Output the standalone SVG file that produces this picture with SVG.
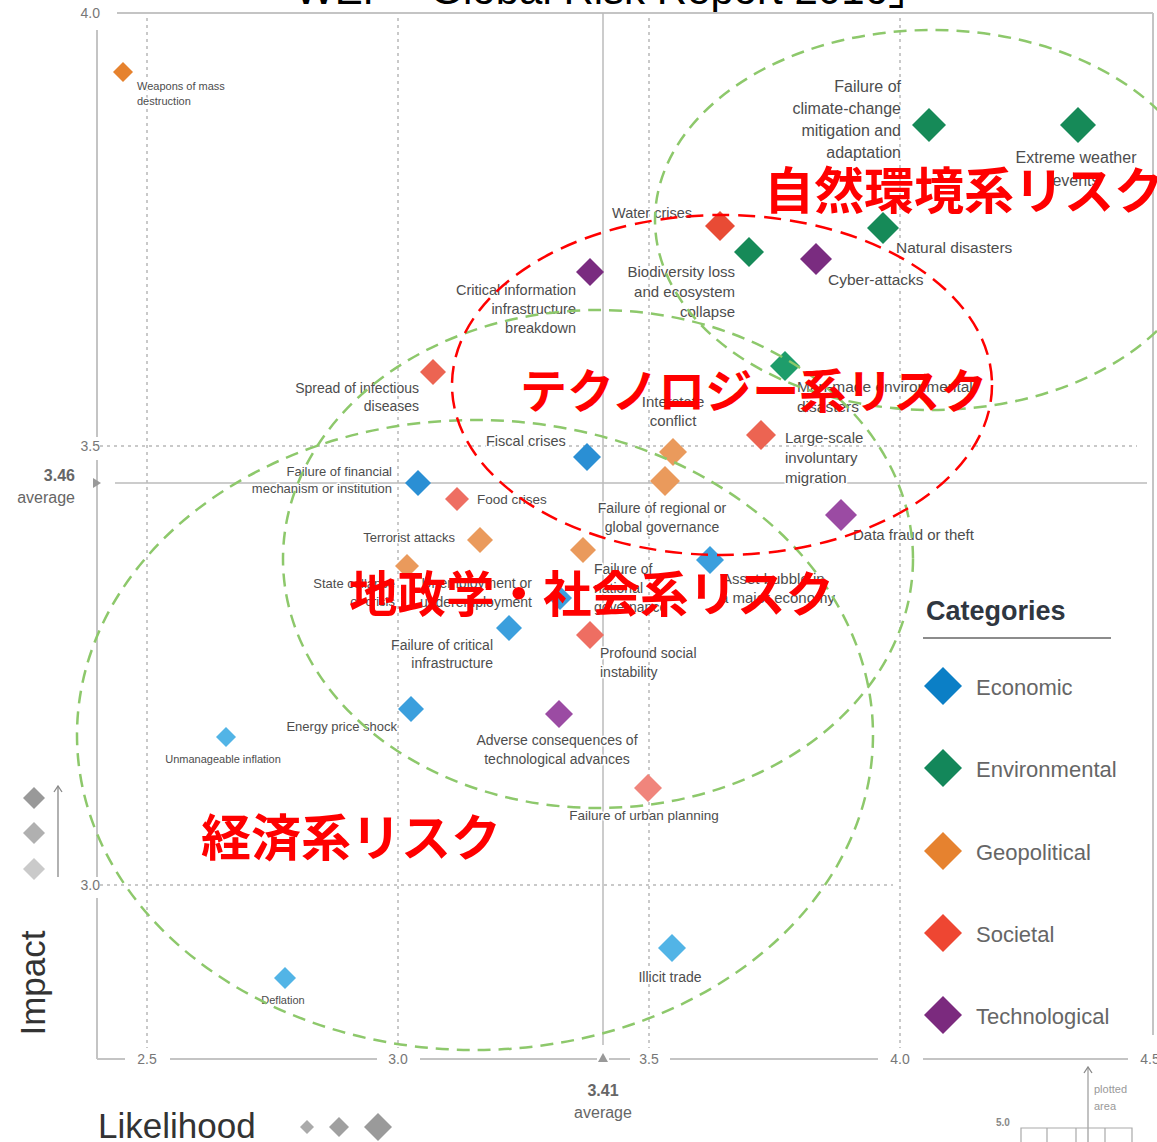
<svg xmlns="http://www.w3.org/2000/svg" xmlns:xlink="http://www.w3.org/1999/xlink" width="1157" height="1142" viewBox="0 0 1157 1142">
<style>
.lbl{font-family:"Liberation Sans",Arial,sans-serif;fill:#4d4d4d;stroke:#fff;stroke-width:3;paint-order:stroke;stroke-linejoin:round}
.f11{font-size:11px}.f13{font-size:13px}.f135{font-size:13.5px}.f14{font-size:14px}.f145{font-size:14.5px}.f15{font-size:15px}.f155{font-size:15.5px}.f16{font-size:16px}
.end{text-anchor:end}.mid{text-anchor:middle}
.grid{stroke:#b8b8b8;stroke-width:1.5;stroke-dasharray:3 4;fill:none}
.axis{stroke:#c4c4c4;stroke-width:2;fill:none}
.tick{font-family:"Liberation Sans",Arial,sans-serif;font-size:14px;fill:#777}
.avg{font-family:"Liberation Sans",Arial,sans-serif;font-size:16px;fill:#666}
.ellg{fill:none;stroke:#8DC86B;stroke-width:2.5;stroke-dasharray:13 8}
.ellr{fill:none;stroke:#FF0000;stroke-width:2.5;stroke-dasharray:17 9}
.jp{font-family:"Noto Sans CJK JP",sans-serif;font-weight:bold;fill:#FF0000}
.leg{font-family:"Liberation Sans",Arial,sans-serif;font-size:22px;fill:#666}
.env{fill:#168A58}.env2{fill:#1E9D6B}
.tec{fill:#7A2C80}.tec2{fill:#9B4BA3}
.geo{fill:#E6822E}.geo2{fill:#EA9A5C}
.soc{fill:#E84B35}.soc2{fill:#EC6452}.soc3{fill:#EE6E62}.soc4{fill:#F0857C}
.eco{fill:#2A8FD4}.eco2{fill:#3B9FDD}.eco3{fill:#52B4E6}
</style>
<defs>
<path id="dm" d="M0,-1L1,0L0,1L-1,0Z"/>
<marker id="arr" markerWidth="10" markerHeight="10" refX="9" refY="5" orient="auto" markerUnits="userSpaceOnUse" viewBox="0 0 10 10">
<path d="M3,1 L9,5 L3,9" fill="none" stroke="#888" stroke-width="1.3"/>
</marker>
</defs>
<rect width="1157" height="1142" fill="#fff"/>

<text x="295" y="4" font-family="Liberation Sans, Noto Sans CJK JP, sans-serif" font-size="42" fill="#000">WEF「Global Risk Report 2016」</text>

<g id="axes">
<line class="grid" x1="147" y1="18" x2="147" y2="1048"/>
<line class="grid" x1="398" y1="18" x2="398" y2="1048"/>
<line class="grid" x1="649" y1="18" x2="649" y2="1048"/>
<line class="grid" x1="900" y1="18" x2="900" y2="1048"/>
<line class="grid" x1="100" y1="446" x2="1137" y2="446"/>
<line class="grid" x1="100" y1="885" x2="893" y2="885"/>
<line class="axis" x1="117" y1="13" x2="1153" y2="13"/>
<line class="axis" x1="1153" y1="13" x2="1153" y2="1035"/>
<line stroke="#bbb" stroke-width="1.5" x1="603" y1="13" x2="603" y2="1045"/>
<line stroke="#bbb" stroke-width="1.5" x1="115" y1="483" x2="1147" y2="483"/>
<path class="axis" d="M97,30V437M97,460V877M97,898V1059M97,1059H125M170,1059H377M420,1059H597M609,1059H630M670,1059H878M923,1059H1128"/>
<path d="M93,478L101,483L93,488Z" fill="#999"/>
<path d="M598,1062L603,1053L608,1062Z" fill="#999"/>
<text class="tick" x="100" y="18" text-anchor="end">4.0</text>
<text class="tick" x="100" y="451" text-anchor="end">3.5</text>
<text class="tick" x="100" y="890" text-anchor="end">3.0</text>
<text class="tick" x="147" y="1064" text-anchor="middle">2.5</text>
<text class="tick" x="398" y="1064" text-anchor="middle">3.0</text>
<text class="tick" x="649" y="1064" text-anchor="middle">3.5</text>
<text class="tick" x="900" y="1064" text-anchor="middle">4.0</text>
<text class="tick" x="1150" y="1064" text-anchor="middle">4.5</text>
<text class="avg" x="75" y="481" text-anchor="end" font-weight="bold" fill="#444">3.46</text>
<text class="avg" x="75" y="503" text-anchor="end">average</text>
<text class="avg" x="603" y="1096" text-anchor="middle" font-weight="bold" fill="#444">3.41</text>
<text class="avg" x="603" y="1118" text-anchor="middle">average</text>
<text x="45" y="983" transform="rotate(-90 45 983)" text-anchor="middle" font-family="Liberation Sans, Arial, sans-serif" font-size="35" fill="#333">Impact</text>
<text x="98" y="1138" font-family="Liberation Sans, Arial, sans-serif" font-size="35" fill="#333">Likelihood</text>
<use href="#dm" transform="translate(34,798) scale(11)" fill="#999"/>
<use href="#dm" transform="translate(34,833) scale(11)" fill="#b0b0b0"/>
<use href="#dm" transform="translate(34,869) scale(11)" fill="#cacaca"/>
<line x1="58" y1="877" x2="58" y2="786" stroke="#888" stroke-width="1.3" marker-end="url(#arr)"/>
<use href="#dm" transform="translate(307,1127) scale(7)" fill="#aaa"/>
<use href="#dm" transform="translate(339,1127) scale(10)" fill="#a0a0a0"/>
<use href="#dm" transform="translate(378,1127) scale(14)" fill="#9a9a9a"/>
<line x1="1088" y1="1142" x2="1088" y2="1067" stroke="#999" stroke-width="1.2" marker-end="url(#arr)"/>
<text x="1094" y="1093" font-family="Liberation Sans, Arial, sans-serif" font-size="11" fill="#999">plotted</text>
<text x="1094" y="1110" font-family="Liberation Sans, Arial, sans-serif" font-size="11" fill="#999">area</text>
<text x="996" y="1126" font-family="Liberation Sans, Arial, sans-serif" font-size="10" font-weight="bold" fill="#888">5.0</text>
<path d="M1021,1142V1128H1132V1142M1047,1128V1142M1076,1128V1142M1105,1128V1142" fill="none" stroke="#aaa" stroke-width="1.2"/>
</g>

<g id="risk-weapons"><use href="#dm" class="geo" transform="translate(123,72) scale(10)"/><text class="lbl f11" x="137" y="90">Weapons of mass</text><text class="lbl f11" x="137" y="105">destruction</text></g>
<g id="risk-climate"><text class="lbl f16 end" x="901" y="92">Failure of</text><text class="lbl f16 end" x="901" y="114">climate-change</text><text class="lbl f16 end" x="901" y="136">mitigation and</text><text class="lbl f16 end" x="901" y="158">adaptation</text><use href="#dm" class="env" transform="translate(929,125) scale(17)"/></g>
<g id="risk-extreme-weather"><text class="lbl f16 mid" x="1076" y="163">Extreme weather</text><text class="lbl f16 mid" x="1076" y="186">events</text><use href="#dm" class="env" transform="translate(1078,125) scale(18)"/></g>
<g id="risk-water"><text class="lbl f145" x="612" y="218">Water crises</text><use href="#dm" class="soc" transform="translate(720,226) scale(15)"/></g>
<g id="risk-biodiversity"><text class="lbl f15 end" x="735" y="277">Biodiversity loss</text><text class="lbl f15 end" x="735" y="297">and ecosystem</text><text class="lbl f15 end" x="735" y="317">collapse</text><use href="#dm" class="env" transform="translate(749,252) scale(15)"/></g>
<g id="risk-natural"><text class="lbl f155" x="896" y="253">Natural disasters</text><use href="#dm" class="env" transform="translate(883,228) scale(16)"/></g>
<g id="risk-cyber"><text class="lbl f155" x="828" y="285">Cyber-attacks</text><use href="#dm" class="tec" transform="translate(816,259) scale(16)"/></g>
<g id="risk-cii"><text class="lbl f145 end" x="576" y="295">Critical information</text><text class="lbl f145 end" x="576" y="314">infrastructure</text><text class="lbl f145 end" x="576" y="333">breakdown</text><use href="#dm" class="tec" transform="translate(590,272) scale(14)"/></g>
<g id="risk-manmade"><text class="lbl f155" x="797" y="392">Man-made environmental</text><text class="lbl f155" x="797" y="412">disasters</text><use href="#dm" class="env2" transform="translate(785,366) scale(15)"/></g>
<g id="risk-spread"><text class="lbl f14 end" x="419" y="393">Spread of infectious</text><text class="lbl f14 end" x="419" y="411">diseases</text><use href="#dm" class="soc2" transform="translate(433,372) scale(13)"/></g>
<g id="risk-interstate"><text class="lbl f15 mid" x="673" y="407">Interstate</text><text class="lbl f15 mid" x="673" y="426">conflict</text><use href="#dm" class="geo2" transform="translate(673,452) scale(14)"/></g>
<g id="risk-migration"><text class="lbl f15" x="785" y="443">Large-scale</text><text class="lbl f15" x="785" y="463">involuntary</text><text class="lbl f15" x="785" y="483">migration</text><use href="#dm" class="soc2" transform="translate(761,435) scale(15)"/></g>
<g id="risk-fiscal"><text class="lbl f145" x="486" y="446">Fiscal crises</text><use href="#dm" class="eco" transform="translate(587,457) scale(14)"/></g>
<g id="risk-regional-gov"><text class="lbl f14 mid" x="662" y="513">Failure of regional or</text><text class="lbl f14 mid" x="662" y="532">global governance</text><use href="#dm" class="geo2" transform="translate(665,481) scale(15)"/></g>
<g id="risk-financial"><text class="lbl f13 end" x="392" y="476">Failure of financial</text><text class="lbl f13 end" x="392" y="493">mechanism or institution</text><use href="#dm" class="eco" transform="translate(418,483) scale(13)"/></g>
<g id="risk-food"><text class="lbl f135" x="477" y="504">Food crises</text><use href="#dm" class="soc3" transform="translate(457,499) scale(12)"/></g>
<g id="risk-data-fraud"><text class="lbl f15" x="853" y="540">Data fraud or theft</text><use href="#dm" class="tec2" transform="translate(841,515) scale(16)"/></g>
<g id="risk-terrorist"><text class="lbl f13 end" x="455" y="542">Terrorist attacks</text><use href="#dm" class="geo2" transform="translate(480,540) scale(13)"/></g>
<g id="risk-state-collapse"><text class="lbl f13 end" x="395" y="588">State collapse</text><text class="lbl f13 end" x="395" y="606">or crisis</text><use href="#dm" class="geo2" transform="translate(407,566) scale(12)"/></g>
<g id="risk-national-gov"><text class="lbl f14" x="594" y="574">Failure of</text><text class="lbl f14" x="594" y="593">national</text><text class="lbl f14" x="594" y="612">governance</text><use href="#dm" class="geo2" transform="translate(583,550) scale(13)"/></g>
<g id="risk-asset-bubble"><text class="lbl f15" x="722" y="584">Asset bubble in</text><text class="lbl f15" x="720" y="603">a major economy</text><use href="#dm" class="eco2" transform="translate(710,560) scale(14)"/></g>
<g id="risk-unemployment"><text class="lbl f14 end" x="532" y="588">Unemployment or</text><text class="lbl f14 end" x="532" y="607">underemployment</text><use href="#dm" class="eco2" transform="translate(560,598) scale(12)"/></g>
<g id="risk-critical-infra"><text class="lbl f14 end" x="493" y="650">Failure of critical</text><text class="lbl f14 end" x="493" y="668">infrastructure</text><use href="#dm" class="eco2" transform="translate(509,628) scale(13)"/></g>
<g id="risk-social-instability"><text class="lbl f14" x="600" y="658">Profound social</text><text class="lbl f14" x="600" y="677">instability</text><use href="#dm" class="soc3" transform="translate(590,635) scale(14)"/></g>
<g id="risk-energy"><text class="lbl f13 end" x="397" y="731">Energy price shock</text><use href="#dm" class="eco2" transform="translate(411,709) scale(13)"/></g>
<g id="risk-inflation"><text class="lbl f11 mid" x="223" y="763">Unmanageable inflation</text><use href="#dm" class="eco3" transform="translate(226,737) scale(10)"/></g>
<g id="risk-adverse-tech"><text class="lbl f14 mid" x="557" y="745">Adverse consequences of</text><text class="lbl f14 mid" x="557" y="764">technological advances</text><use href="#dm" class="tec2" transform="translate(559,714) scale(14)"/></g>
<g id="risk-urban"><text class="lbl f135 mid" x="644" y="820">Failure of urban planning</text><use href="#dm" class="soc4" transform="translate(648,788) scale(14)"/></g>
<g id="risk-illicit"><text class="lbl f14 mid" x="670" y="982">Illicit trade</text><use href="#dm" class="eco3" transform="translate(672,948) scale(14)"/></g>
<g id="risk-deflation"><text class="lbl f11 mid" x="283" y="1004">Deflation</text><use href="#dm" class="eco3" transform="translate(285,978) scale(11)"/></g>

<g id="legend">
<text x="926" y="620" font-family="Liberation Sans, Arial, sans-serif" font-size="27" font-weight="bold" fill="#2f3640">Categories</text>
<line x1="923" y1="638" x2="1111" y2="638" stroke="#666" stroke-width="1.5"/>
<use href="#dm" transform="translate(943,686) scale(19)" fill="#0B7FC6"/>
<text class="leg" x="976" y="695">Economic</text>
<use href="#dm" transform="translate(943,768) scale(19)" fill="#13875A"/>
<text class="leg" x="976" y="777">Environmental</text>
<use href="#dm" transform="translate(943,851) scale(19)" fill="#E6822F"/>
<text class="leg" x="976" y="860">Geopolitical</text>
<use href="#dm" transform="translate(943,933) scale(19)" fill="#EE4632"/>
<text class="leg" x="976" y="942">Societal</text>
<use href="#dm" transform="translate(943,1015) scale(19)" fill="#7B2A7E"/>
<text class="leg" x="976" y="1024">Technological</text>
</g>

<g id="groupings">
<ellipse class="ellg" cx="932" cy="220" rx="277" ry="190"/>
<ellipse class="ellg" cx="598" cy="559" rx="315" ry="249"/>
<ellipse class="ellg" cx="475" cy="735" rx="398" ry="315"/>
<ellipse class="ellr" cx="722" cy="385" rx="270" ry="170"/>
</g>

<g id="group-labels">
<text class="jp" x="764" y="209" font-size="50">自然環境系リスク</text>
<text class="jp" x="520" y="408" font-size="47">テクノロジー系リスク</text>
<text class="jp" x="349" y="612" font-size="48.5">地政学・社会系リスク</text>
<text class="jp" x="201" y="856" font-size="50">経済系リスク</text>
</g>
</svg>
